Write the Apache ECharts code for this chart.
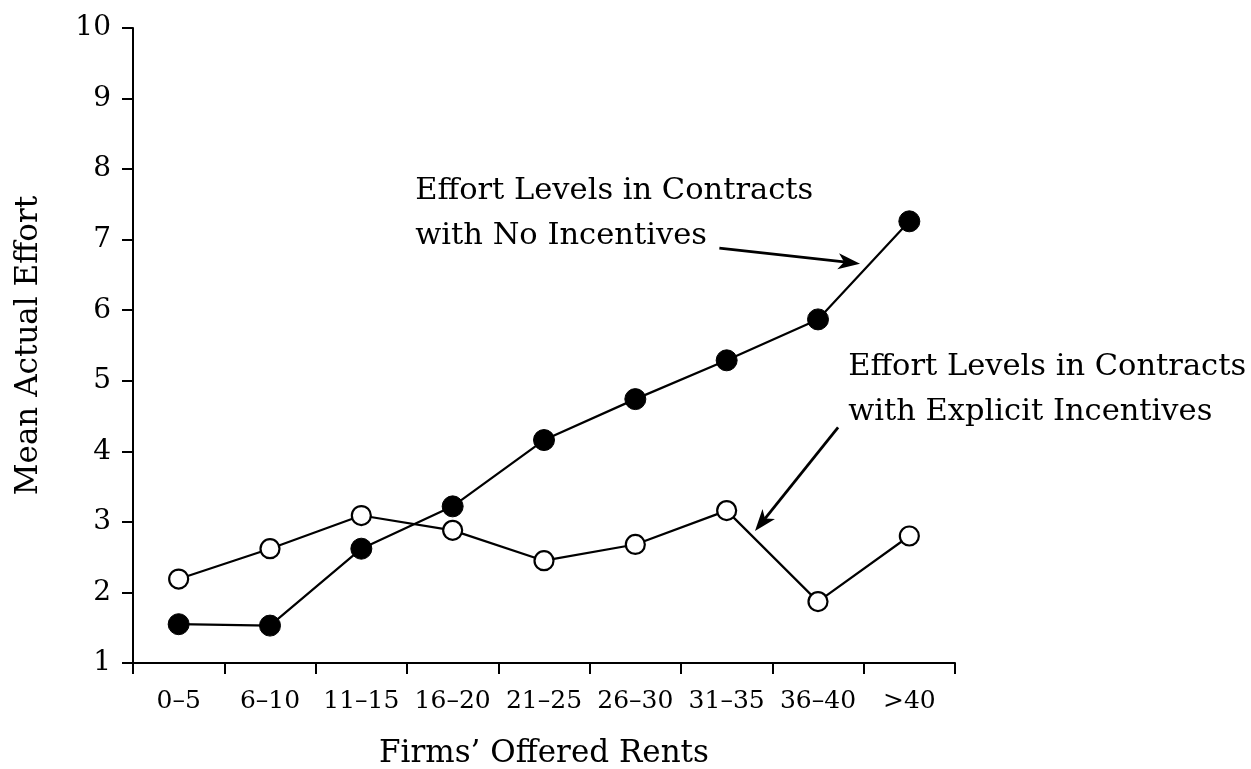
<!DOCTYPE html>
<html>
<head>
<meta charset="utf-8">
<script src="https://cdn.jsdelivr.net/npm/echarts@6/dist/echarts.min.js"></script>
<style>
html,body{margin:0;padding:0;background:#fff;}
#chart{width:1251px;height:769px;}
</style>
</head>
<body>
<div id="chart"></div>
<script>
const categories = ['0–5','6–10','11–15','16–20','21–25','26–30','31–35','36–40','>40'];
const noIncentives = [1.55, 1.53, 2.62, 3.22, 4.16, 4.74, 5.29, 5.87, 7.26];
const explicitIncentives = [2.19, 2.62, 3.09, 2.88, 2.45, 2.68, 3.16, 1.87, 2.80];
const yTicks = [1, 10, 1]; // min, max, interval
const xTitle = 'Firms’ Offered Rents';
const yTitle = 'Mean Actual Effort';
const note1 = 'Effort Levels in Contracts\nwith No Incentives';
const note2 = 'Effort Levels in Contracts\nwith Explicit Incentives';

const FONT = 'DejaVu Serif';
const INK = '#000';
const chart = echarts.init(document.getElementById('chart'));
chart.setOption({
  backgroundColor: '#fff',
  animation: false,
  grid: {left: 133, right: 296, top: 28, bottom: 106, containLabel: false, outerBoundsMode: 'none'},
  xAxis: {
    type: 'category',
    data: categories,
    boundaryGap: true,
    name: xTitle,
    nameLocation: 'middle',
    nameGap: 75,
    nameTextStyle: {fontFamily: FONT, fontSize: 31, color: INK},
    axisLine: {lineStyle: {color: INK, width: 2}},
    axisTick: {show: true, alignWithLabel: false, length: 11, lineStyle: {color: INK, width: 2}},
    axisLabel: {fontFamily: FONT, fontSize: 25, color: INK, margin: 26, interval: 0},
    splitLine: {show: false}
  },
  yAxis: {
    type: 'value',
    min: yTicks[0], max: yTicks[1], interval: yTicks[2],
    name: yTitle,
    nameLocation: 'middle',
    nameGap: 89,
    nameRotate: 90,
    nameTextStyle: {fontFamily: FONT, fontSize: 31, color: INK},
    axisLine: {show: true, lineStyle: {color: INK, width: 2}},
    axisTick: {show: true, length: 11, lineStyle: {color: INK, width: 2}},
    axisLabel: {fontFamily: FONT, fontSize: 28, color: INK, margin: 22},
    splitLine: {show: false}
  },
  series: [
    {
      name: 'Explicit Incentives',
      type: 'line',
      data: explicitIncentives,
      symbol: 'circle',
      symbolSize: 19,
      lineStyle: {color: INK, width: 2.2},
      itemStyle: {color: '#fff', borderColor: INK, borderWidth: 2.2},
      z: 2
    },
    {
      name: 'No Incentives',
      type: 'line',
      data: noIncentives,
      symbol: 'circle',
      symbolSize: 21,
      lineStyle: {color: INK, width: 2.2},
      itemStyle: {color: INK, borderColor: INK, borderWidth: 1},
      z: 3
    }
  ]
});

function toPx(i, v) {
  const a = chart.convertToPixel({gridIndex: 0}, [0, v]);
  const b = chart.convertToPixel({gridIndex: 0}, [1, v]);
  return [a[0] + (b[0] - a[0]) * i, a[1]];
}
function arrow(from, to) {
  const p0 = toPx(from[0], from[1]);
  const p1 = toPx(to[0], to[1]);
  const dx = p1[0] - p0[0], dy = p1[1] - p0[1];
  const len = Math.sqrt(dx * dx + dy * dy);
  const ux = dx / len, uy = dy / len;
  const hl = 22, hw = 8, notch = 6;
  const base = [p1[0] - ux * hl, p1[1] - uy * hl];
  const inner = [p1[0] - ux * (hl - notch), p1[1] - uy * (hl - notch)];
  return [
    {type: 'line', shape: {x1: p0[0], y1: p0[1], x2: inner[0], y2: inner[1]},
     style: {stroke: INK, lineWidth: 2.8}},
    {type: 'polygon', shape: {points: [
      p1,
      [base[0] - uy * hw, base[1] + ux * hw],
      inner,
      [base[0] + uy * hw, base[1] - ux * hw]
    ]}, style: {fill: INK}}
  ];
}
function note(text, at) {
  const p = toPx(at[0], at[1]);
  return {type: 'text', x: p[0], y: p[1],
    style: {text: text, fontFamily: FONT, fontSize: 30.5, fill: INK,
      lineHeight: 45, align: 'left', verticalAlign: 'middle'}};
}
chart.setOption({
  graphic: [
    note(note1, [2.59, 7.37]),
    note(note2, [7.33, 4.87]),
    ...arrow([5.92, 6.88], [7.46, 6.66]),
    ...arrow([7.22, 4.34], [6.31, 2.87])
  ]
});
</script>
</body>
</html>
